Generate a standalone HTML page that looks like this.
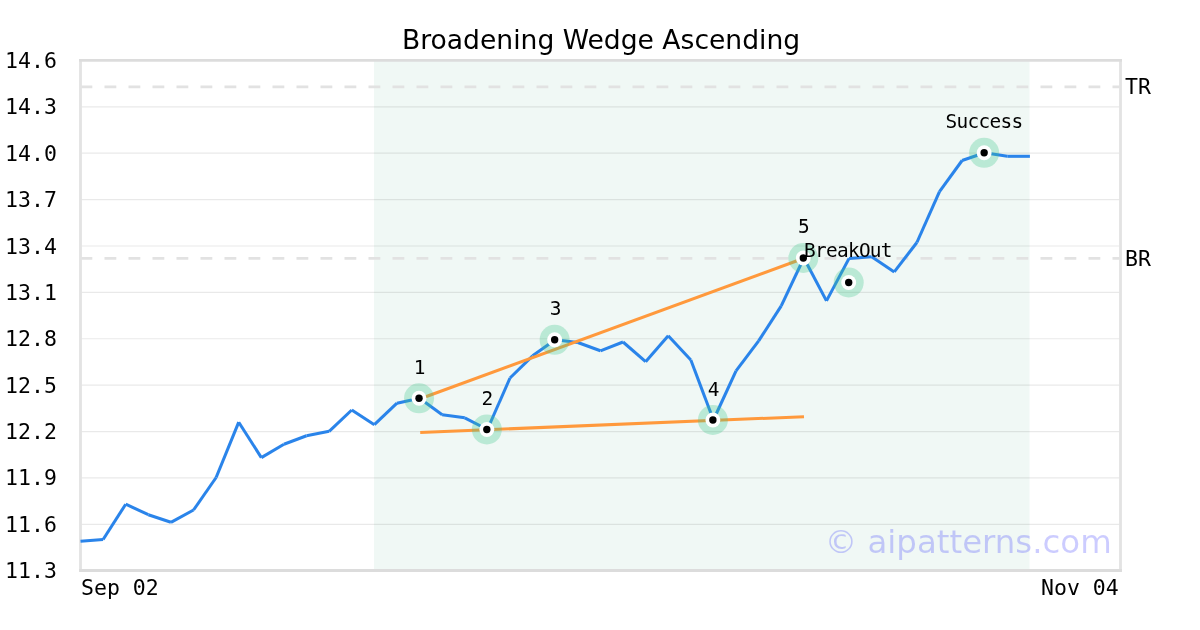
<!DOCTYPE html>
<html lang="en">
<head>
<meta charset="utf-8">
<title>Broadening Wedge Ascending</title>
<style>
html,body{margin:0;padding:0;background:#fff;}
body{width:1200px;height:630px;overflow:hidden;}
svg{display:block;}
.mono{font-family:"DejaVu Sans Mono","Liberation Mono",monospace;}
.sans{font-family:"DejaVu Sans","Liberation Sans",sans-serif;}
</style>
</head>
<body>
<svg width="1200" height="630" viewBox="0 0 1200 630">
<rect x="0" y="0" width="1200" height="630" fill="#ffffff"/>
<rect x="374" y="60.4" width="655.5" height="510.05" fill="#f0f8f5"/>
<g stroke="#000000" stroke-opacity="0.085" stroke-width="1.2" fill="none">
<line x1="80.5" y1="106.81" x2="1120.5" y2="106.81"/>
<line x1="80.5" y1="153.2" x2="1120.5" y2="153.2"/>
<line x1="80.5" y1="199.59" x2="1120.5" y2="199.59"/>
<line x1="80.5" y1="245.98" x2="1120.5" y2="245.98"/>
<line x1="80.5" y1="292.37" x2="1120.5" y2="292.37"/>
<line x1="80.5" y1="338.76" x2="1120.5" y2="338.76"/>
<line x1="80.5" y1="385.15" x2="1120.5" y2="385.15"/>
<line x1="80.5" y1="431.54" x2="1120.5" y2="431.54"/>
<line x1="80.5" y1="477.93" x2="1120.5" y2="477.93"/>
<line x1="80.5" y1="524.32" x2="1120.5" y2="524.32"/>
</g>
<g stroke="#e2e2e2" stroke-width="2.8" fill="none" stroke-dasharray="11.8 12.2">
<line x1="80.5" y1="86.85" x2="1120.5" y2="86.85"/>
<line x1="80.5" y1="258.45" x2="1120.5" y2="258.45"/>
</g>
<g fill="none" stroke-width="2.85">
<line x1="80.5" y1="58.98" x2="80.5" y2="571.87" stroke="#e3e3e3"/>
<line x1="1120.5" y1="58.98" x2="1120.5" y2="571.87" stroke="#e3e3e3"/>
<line x1="79.08" y1="60.4" x2="1121.92" y2="60.4" stroke="#dcdcdc"/>
<line x1="79.08" y1="570.45" x2="1121.92" y2="570.45" stroke="#dcdcdc"/>
</g>
<g fill="none" stroke="#2a84ea" stroke-width="3.05" stroke-linecap="butt">
<line x1="80.5" y1="541.2" x2="103.11" y2="539.5"/>
<line x1="103.11" y1="539.5" x2="125.71" y2="504.2"/>
<line x1="125.71" y1="504.2" x2="148.31" y2="514.7"/>
<line x1="148.31" y1="514.7" x2="170.92" y2="522.3"/>
<line x1="170.92" y1="522.3" x2="193.53" y2="510"/>
<line x1="193.53" y1="510" x2="216.13" y2="477.5"/>
<line x1="216.13" y1="477.5" x2="238.74" y2="422.2"/>
<line x1="238.74" y1="422.2" x2="261.34" y2="457.6"/>
<line x1="261.34" y1="457.6" x2="283.94" y2="444.2"/>
<line x1="283.94" y1="444.2" x2="306.55" y2="435.8"/>
<line x1="306.55" y1="435.8" x2="329.15" y2="431.3"/>
<line x1="329.15" y1="431.3" x2="351.76" y2="410"/>
<line x1="351.76" y1="410" x2="374.37" y2="424.7"/>
<line x1="374.37" y1="424.7" x2="396.97" y2="403.2"/>
<line x1="396.97" y1="403.2" x2="419.57" y2="398.3"/>
<line x1="419.57" y1="398.3" x2="442.18" y2="414.7"/>
<line x1="442.18" y1="414.7" x2="464.79" y2="417.8"/>
<line x1="464.79" y1="417.8" x2="487.39" y2="429.5"/>
<line x1="487.39" y1="429.5" x2="510" y2="378"/>
<line x1="510" y1="378" x2="532.6" y2="355.8"/>
<line x1="532.6" y1="355.8" x2="555.2" y2="339.8"/>
<line x1="555.2" y1="339.8" x2="577.81" y2="342.5"/>
<line x1="577.81" y1="342.5" x2="600.41" y2="350.8"/>
<line x1="600.41" y1="350.8" x2="623.02" y2="342"/>
<line x1="623.02" y1="342" x2="645.62" y2="361.7"/>
<line x1="645.62" y1="361.7" x2="668.23" y2="335.8"/>
<line x1="668.23" y1="335.8" x2="690.84" y2="360"/>
<line x1="690.84" y1="360" x2="713.44" y2="420"/>
<line x1="713.44" y1="420" x2="736.04" y2="370.8"/>
<line x1="736.04" y1="370.8" x2="758.65" y2="340.9"/>
<line x1="758.65" y1="340.9" x2="781.25" y2="305.8"/>
<line x1="781.25" y1="305.8" x2="803.86" y2="258"/>
<line x1="803.86" y1="258" x2="826.47" y2="300.9"/>
<line x1="826.47" y1="300.9" x2="849.07" y2="258.4"/>
<line x1="849.07" y1="258.4" x2="871.68" y2="256.8"/>
<line x1="871.68" y1="256.8" x2="894.28" y2="271.9"/>
<line x1="894.28" y1="271.9" x2="916.88" y2="242.5"/>
<line x1="916.88" y1="242.5" x2="939.49" y2="191.6"/>
<line x1="939.49" y1="191.6" x2="962.1" y2="160.5"/>
<line x1="962.1" y1="160.5" x2="984.7" y2="152.8"/>
<line x1="984.7" y1="152.8" x2="1007.31" y2="156.3"/>
<line x1="1007.31" y1="156.3" x2="1029.91" y2="156.3"/>
</g>
<g stroke="#ff993c" stroke-width="3.05" fill="none">
<line x1="419.57" y1="399" x2="803.86" y2="258.2"/>
<line x1="420.2" y1="432.5" x2="804" y2="416.7"/>
</g>
<circle cx="419.02" cy="398.3" r="15" fill="#3fc68a" fill-opacity="0.3"/>
<circle cx="486.84" cy="429.5" r="15" fill="#3fc68a" fill-opacity="0.3"/>
<circle cx="554.65" cy="339.8" r="15" fill="#3fc68a" fill-opacity="0.3"/>
<circle cx="712.89" cy="420" r="15" fill="#3fc68a" fill-opacity="0.3"/>
<circle cx="803.31" cy="258" r="15" fill="#3fc68a" fill-opacity="0.3"/>
<circle cx="848.7" cy="282.5" r="15" fill="#3fc68a" fill-opacity="0.3"/>
<circle cx="984.15" cy="152.8" r="15" fill="#3fc68a" fill-opacity="0.3"/>
<circle cx="419.02" cy="398.3" r="7.45" fill="#ffffff"/>
<circle cx="486.84" cy="429.5" r="7.45" fill="#ffffff"/>
<circle cx="554.65" cy="339.8" r="7.45" fill="#ffffff"/>
<circle cx="712.89" cy="420" r="7.45" fill="#ffffff"/>
<circle cx="803.31" cy="258" r="7.45" fill="#ffffff"/>
<circle cx="848.7" cy="282.5" r="7.45" fill="#ffffff"/>
<circle cx="984.15" cy="152.8" r="7.45" fill="#ffffff"/>
<circle cx="419.02" cy="398.3" r="3.7" fill="#000000"/>
<circle cx="486.84" cy="429.5" r="3.7" fill="#000000"/>
<circle cx="554.65" cy="339.8" r="3.7" fill="#000000"/>
<circle cx="712.89" cy="420" r="3.7" fill="#000000"/>
<circle cx="803.31" cy="258" r="3.7" fill="#000000"/>
<circle cx="848.7" cy="282.5" r="3.7" fill="#000000"/>
<circle cx="984.15" cy="152.8" r="3.7" fill="#000000"/>
<g class="mono" font-size="19.4" letter-spacing="-0.68" fill="#000" text-anchor="middle">
<text x="419.27" y="374.16">1</text>
<text x="487.09" y="404.6">2</text>
<text x="555.3" y="314.9">3</text>
<text x="713.14" y="396">4</text>
<text x="803.56" y="233.1">5</text>
<text x="847.9" y="257.43">BreakOut</text>
<text x="984" y="127.65">Success</text>
</g>
<text class="sans" x="1111.7" y="552.7" font-size="32.4" fill="#0000ff" fill-opacity="0.2" text-anchor="end">© aipatterns.com</text>
<text class="sans" x="601.1" y="48.9" font-size="26.58" fill="#000" text-anchor="middle">Broadening Wedge Ascending</text>
<g class="mono" font-size="21.5" fill="#000" text-anchor="end">
<text x="56.9" y="68">14.6</text>
<text x="56.9" y="114">14.3</text>
<text x="56.9" y="161">14.0</text>
<text x="56.9" y="207">13.7</text>
<text x="56.9" y="254">13.4</text>
<text x="56.9" y="300">13.1</text>
<text x="56.9" y="346">12.8</text>
<text x="56.9" y="393">12.5</text>
<text x="56.9" y="439">12.2</text>
<text x="56.9" y="485">11.9</text>
<text x="56.9" y="532">11.6</text>
<text x="56.9" y="578">11.3</text>
</g>
<g class="mono" font-size="21.5" fill="#000">
<text x="81" y="595">Sep 02</text>
<text x="1118.7" y="595" text-anchor="end">Nov 04</text>
<text x="1124.95" y="94">TR</text>
<text x="1124.95" y="266">BR</text>
</g>
</svg>
</body>
</html>
